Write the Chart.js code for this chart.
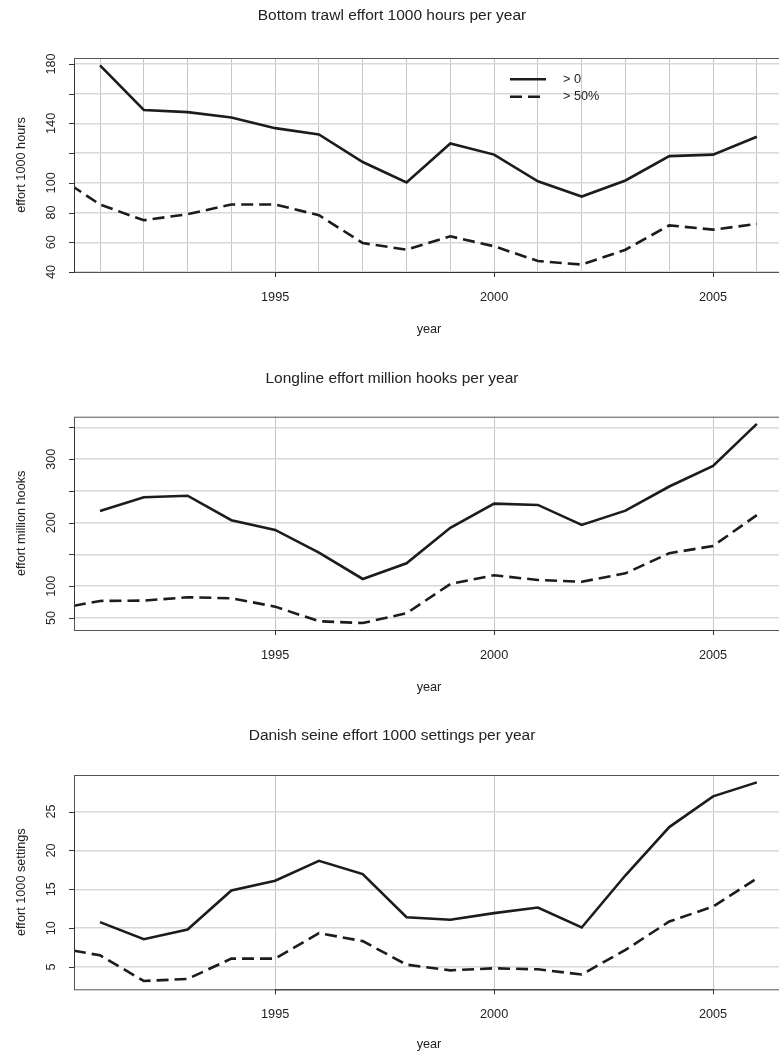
<!DOCTYPE html>
<html>
<head>
<meta charset="utf-8">
<script src="https://cdn.jsdelivr.net/npm/chart.js@4"></script>
<style>
  body { margin: 0; background: #fff; }
  canvas { display: block; }
</style>
</head>
<body>
<canvas id="trawl" width="779" height="350"></canvas>
<canvas id="longline" width="779" height="360"></canvas>
<canvas id="seine" width="779" height="347"></canvas>
<script>
// years on the x axis (1990 only exists for the dashed series, it sits left of the frame)
const years = [1990, 1991, 1992, 1993, 1994, 1995, 1996, 1997, 1998, 1999, 2000, 2001, 2002, 2003, 2004, 2005, 2006];

// Bottom trawl, 1000 hours
const trawlAll  = [null, 179, 149, 147.6, 144, 136.8, 132.6, 114, 100.2, 126.5, 119, 101, 90.8, 101.6, 118, 119, 131];
const trawlHalf = [105, 85.4, 74.8, 78.9, 85.4, 85.4, 78.2, 59.5, 55, 64, 57.3, 47.4, 45, 55, 71.4, 68.5, 72.3];

// Longline, million hooks
const longAll  = [null, 218.5, 240, 242.5, 204, 188.6, 153, 111.4, 136, 192, 230, 228, 196.5, 219, 257, 289.4, 355.6];
const longHalf = [64, 76.8, 77.3, 82.6, 81, 67.8, 44.8, 42, 57.4, 103.5, 117.2, 109.8, 107, 120.3, 151.9, 163.4, 212];

// Danish seine, 1000 settings
const seineAll  = [null, 10.77, 8.58, 9.83, 14.85, 16.1, 18.66, 16.95, 11.4, 11.07, 11.93, 12.65, 10.08, 16.8, 23.0, 26.95, 28.75];
const seineHalf = [7.5, 6.5, 3.2, 3.46, 6.08, 6.08, 9.36, 8.33, 5.3, 4.57, 4.83, 4.7, 4.03, 7.2, 10.85, 12.78, 16.4];

const seriesNames = ['> 0', '> 50%'];

// axis ticks (R drops some labels when they would overlap)
const xTickYears  = [1995, 2000, 2005];
const xTickLabels = ['1995', '2000', '2005'];
const trawlTicks  = [40, 60, 80, 100, 120, 140, 160, 180];
const trawlLabels = ['40', '60', '80', '100', '', '140', '', '180'];
const longTicks   = [50, 100, 150, 200, 250, 300, 350];
const longLabels  = ['50', '100', '', '200', '', '300', ''];
const seineTicks  = [5, 10, 15, 20, 25];
const seineLabels = ['5', '10', '15', '20', '25'];

const FONT = '"Liberation Sans", Arial, sans-serif';
const INK = '#222';

function pts(vals) {
  return years.map((y, i) => ({ x: y, y: vals[i] }));
}

// R style frame, axes, rotated tick labels, titles
const rAxes = {
  id: 'rAxes',
  afterDraw(chart, args, o) {
    const ctx = chart.ctx;
    const a = chart.chartArea;
    const xs = chart.scales.x, ys = chart.scales.y;
    ctx.save();
    ctx.strokeStyle = '#555';
    ctx.lineWidth = 1;
    ctx.strokeRect(a.left + 0.5, a.top + 0.5, a.right - a.left + 5, a.bottom - a.top);

    ctx.strokeStyle = '#333';
    ctx.fillStyle = INK;
    // left axis
    const y0 = ys.getPixelForValue(o.yTicks[0]);
    const y1 = ys.getPixelForValue(o.yTicks[o.yTicks.length - 1]);
    ctx.beginPath();
    ctx.moveTo(a.left + 0.5, y0);
    ctx.lineTo(a.left + 0.5, y1);
    o.yTicks.forEach(v => {
      const p = Math.round(ys.getPixelForValue(v)) + 0.5;
      ctx.moveTo(a.left - 5, p);
      ctx.lineTo(a.left + 0.5, p);
    });
    ctx.stroke();
    ctx.font = '12.7px ' + FONT;
    ctx.textAlign = 'center';
    ctx.textBaseline = 'alphabetic';
    o.yTicks.forEach((v, i) => {
      if (!o.yLabels[i]) return;
      ctx.save();
      ctx.translate(55, ys.getPixelForValue(v));
      ctx.rotate(-Math.PI / 2);
      ctx.fillText(o.yLabels[i], 0, 0);
      ctx.restore();
    });
    ctx.save();
    ctx.translate(24.5, (a.top + a.bottom) / 2);
    ctx.rotate(-Math.PI / 2);
    ctx.fillText(o.yTitle, 0, 0);
    ctx.restore();

    // bottom axis
    const xa = xs.getPixelForValue(xTickYears[0]);
    const xb = xs.getPixelForValue(xTickYears[xTickYears.length - 1]);
    ctx.beginPath();
    ctx.moveTo(xa, a.bottom + 0.5);
    ctx.lineTo(xb, a.bottom + 0.5);
    xTickYears.forEach(v => {
      const p = Math.round(xs.getPixelForValue(v)) + 0.5;
      ctx.moveTo(p, a.bottom);
      ctx.lineTo(p, a.bottom + 5);
    });
    ctx.stroke();
    xTickYears.forEach((v, i) => {
      ctx.fillText(xTickLabels[i], xs.getPixelForValue(v), a.bottom + 29);
    });
    ctx.fillText('year', 429, a.bottom + o.xTitleGap);

    // main title
    ctx.font = '15.5px ' + FONT;
    ctx.fillText(o.title, 392, o.titleY);

    // legend
    if (o.legend) {
      ctx.font = '12.7px ' + FONT;
      ctx.textAlign = 'left';
      ctx.textBaseline = 'middle';
      chart.data.datasets.forEach((ds, i) => {
        const ly = o.legend.y + i * 17.4;
        ctx.save();
        ctx.strokeStyle = ds.borderColor;
        ctx.lineWidth = ds.borderWidth;
        ctx.setLineDash(ds.borderDash || []);
        ctx.beginPath();
        ctx.moveTo(o.legend.x, ly);
        ctx.lineTo(o.legend.x + 36, ly);
        ctx.stroke();
        ctx.restore();
        ctx.fillText(ds.label, o.legend.x + 53, ly);
      });
    }
    ctx.restore();
  }
};

function makeChart(id, all, half, cfg) {
  return new Chart(document.getElementById(id), {
    type: 'line',
    data: {
      datasets: [
        { label: seriesNames[0], data: pts(all), borderColor: '#1c1c1c', borderWidth: 2.6,
          pointRadius: 0, tension: 0, spanGaps: false },
        { label: seriesNames[1], data: pts(half), borderColor: '#1c1c1c', borderWidth: 2.6,
          borderDash: [12, 6], pointRadius: 0, tension: 0 }
      ]
    },
    options: {
      responsive: false,
      devicePixelRatio: 1,
      animation: false,
      layout: { padding: cfg.padding },
      scales: {
        x: {
          type: 'linear',
          min: 1990.406,
          max: 2006.506,
          ticks: { display: false, stepSize: 1, includeBounds: false },
          border: { display: false },
          grid: {
            drawTicks: false,
            lineWidth: 1,
            color: c => (cfg.allYears || xTickYears.includes(c.tick && c.tick.value)) ? '#c6c6c6' : 'rgba(0,0,0,0)'
          }
        },
        y: {
          type: 'linear',
          min: cfg.yMin,
          max: cfg.yMax,
          ticks: { display: false, stepSize: cfg.step, includeBounds: false },
          border: { display: false },
          grid: { drawTicks: false, lineWidth: 1.5, color: '#d8d8d8' }
        }
      },
      plugins: {
        legend: { display: false },
        tooltip: { enabled: false },
        rAxes: {
          yTicks: cfg.yTicks,
          yLabels: cfg.yLabels,
          yTitle: cfg.yTitle,
          title: cfg.title,
          titleY: cfg.titleY,
          xTitleGap: cfg.xTitleGap,
          legend: cfg.legend
        }
      }
    },
    plugins: [rAxes]
  });
}

makeChart('trawl', trawlAll, trawlHalf, {
  padding: { left: 74, top: 58, right: 0, bottom: 78 },
  yMin: 40, yMax: 184, step: 20, allYears: true,
  yTicks: trawlTicks, yLabels: trawlLabels,
  yTitle: 'effort 1000 hours',
  title: 'Bottom trawl effort 1000 hours per year', titleY: 20, xTitleGap: 61,
  legend: { x: 510, y: 79.3 }
});

makeChart('longline', longAll, longHalf, {
  padding: { left: 74, top: 66.7, right: 0, bottom: 80 },
  yMin: 31, yMax: 367, step: 50, allYears: false,
  yTicks: longTicks, yLabels: longLabels,
  yTitle: 'effort million hooks',
  title: 'Longline effort million hooks per year', titleY: 33, xTitleGap: 61
});

makeChart('seine', seineAll, seineHalf, {
  padding: { left: 74, top: 65, right: 0, bottom: 67.7 },
  yMin: 2.13, yMax: 29.7, step: 5, allYears: false,
  yTicks: seineTicks, yLabels: seineLabels,
  yTitle: 'effort 1000 settings',
  title: 'Danish seine effort 1000 settings per year', titleY: 30, xTitleGap: 59
});
</script>
</body>
</html>
